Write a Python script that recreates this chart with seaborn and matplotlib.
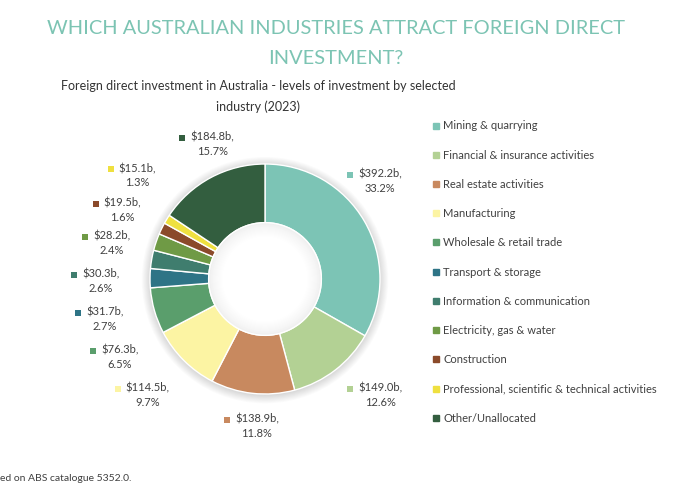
import matplotlib.pyplot as plt
import seaborn as sns
import numpy as np

# ===== Data =====
industries = [
    'Mining & quarrying',
    'Financial & insurance activities',
    'Real estate activities',
    'Manufacturing',
    'Wholesale & retail trade',
    'Transport & storage',
    'Information & communication',
    'Electricity, gas & water',
    'Construction',
    'Professional, scientific & technical activities',
    'Other/Unallocated',
]
values_bn = [392.2, 149.0, 138.9, 114.5, 76.3, 31.7, 30.3, 28.2, 19.5, 15.1, 184.8]
shares_pct = [33.2, 12.6, 11.8, 9.7, 6.5, 2.7, 2.6, 2.4, 1.6, 1.3, 15.7]

colors = sns.color_palette([
    '#7cc4b5', '#b3d194', '#c8895f', '#fcf4a3', '#5a9e6c', '#2e7486',
    '#3f7d6e', '#6f9a45', '#8b4a2a', '#efe03f', '#335e3f',
])

# label positions (pie units, relative to centre) - layout only
label_pos = [
    (1.00, 0.85), (1.00, -1.01), (-0.07, -1.28), (-1.02, -1.01),
    (-1.26, -0.68), (-1.39, -0.35), (-1.43, -0.02), (-1.33, 0.31),
    (-1.24, 0.60), (-1.11, 0.90), (-0.46, 1.17),
]

sns.set_theme(style='white')
plt.rcParams['font.family'] = ['Lato', 'DejaVu Sans']
text_col = '#404040'

W, H = 700, 490
fig = plt.figure(figsize=(7, 4.9), dpi=100)
fig.patch.set_facecolor('white')

# axes so that 1 unit = 115 px, centre at (265, 279) px from top-left
R = 115
cx, cy = 265, H - 279
xl, yl = 2.0, 1.7
ax = fig.add_axes([(cx - xl * R) / W, (cy - yl * R) / H, 2 * xl * R / W, 2 * yl * R / H])
ax.axis('off')

# soft shadow around the ring
for i in range(10):
    ax.add_patch(plt.Circle((0, -0.01), 1.0 + i * 0.008, color='#000000',
                            alpha=0.015, lw=0, zorder=0))

wedges, _ = ax.pie(values_bn, colors=colors, startangle=90, counterclock=False,
                   radius=1.0, wedgeprops=dict(width=0.51, edgecolor='white', linewidth=1.0),
                   frame=False)
ax.set_xlim(-xl, xl)
ax.set_ylim(-yl, yl)
ax.set_aspect('auto')

# faint shading on the inner edge of the hole (darkest at the edge)
n_steps = 14
for i in range(n_steps):
    g = 0.935 + 0.065 * (i / (n_steps - 1)) ** 0.7
    ax.add_patch(plt.Circle((0, 0), 0.49 - i * 0.009, color=(g, g, g), lw=0, zorder=3))
ax.add_patch(plt.Circle((0, 0), 0.49, fill=False, edgecolor='white', lw=1.0, zorder=3))

# data labels
texts = []
for v, p, (lx, ly) in zip(values_bn, shares_pct, label_pos):
    t = ax.text(lx, ly, f'${v:.1f}b,\n{p:.1f}%', ha='center', va='center',
                fontsize=8, color=text_col, linespacing=1.35, zorder=5)
    texts.append(t)

fig.canvas.draw()
renderer = fig.canvas.get_renderer()
inv = ax.transData.inverted()
for t, c in zip(texts, colors):
    bb = t.get_window_extent(renderer)
    line_h = bb.height / 2
    mx, my = inv.transform((bb.x0 - 8, bb.y1 - line_h / 2))
    ax.scatter([mx], [my], marker='s', s=14, color=c, lw=0, zorder=5)

# legend
handles = [plt.Line2D([], [], marker='s', ls='', markersize=4.5, color=c) for c in colors]
fig.legend(handles, industries, loc='upper left', bbox_to_anchor=(428 / W, 1 - 116 / H),
           frameon=False, fontsize=8, labelcolor=text_col, handlelength=0.6,
           handletextpad=0.35, labelspacing=1.64, borderaxespad=0)

# titles
title_col = '#7cc4b3'
fig.text(336 / W, 1 - 29 / H, 'WHICH AUSTRALIAN INDUSTRIES ATTRACT FOREIGN DIRECT',
         ha='center', va='center', fontsize=14.4, color=title_col)
fig.text(336 / W, 1 - 59 / H, 'INVESTMENT?',
         ha='center', va='center', fontsize=14.4, color=title_col)
fig.text(258 / W, 1 - 86 / H, 'Foreign direct investment in Australia - levels of investment by selected',
         ha='center', va='center', fontsize=9.0, color='#333333')
fig.text(258 / W, 1 - 107 / H, 'industry (2023)',
         ha='center', va='center', fontsize=9.0, color='#333333')
fig.text(0, 1 - 478 / H, 'ed on ABS catalogue 5352.0.', ha='left', va='center',
         fontsize=7.5, color=text_col)

fig.savefig('out.png', dpi=100, facecolor='white')
